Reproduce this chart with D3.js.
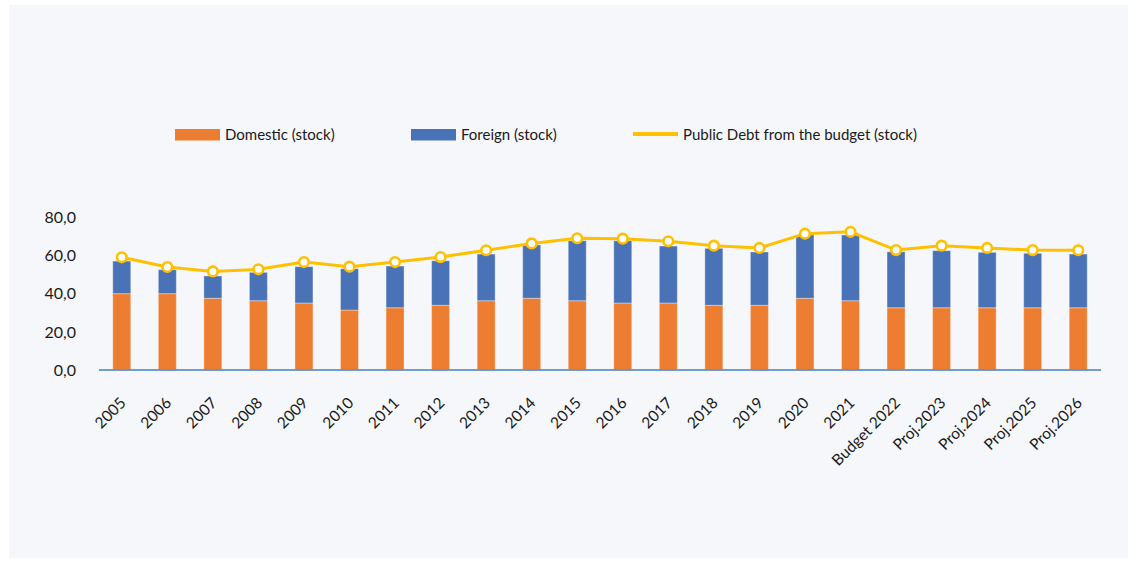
<!DOCTYPE html>
<html><head><meta charset="utf-8">
<script src="https://cdn.jsdelivr.net/npm/d3@7"></script>
<style>
html,body{margin:0;padding:0;background:#fff;}
svg{display:block;font-family:Lato,"Open Sans",sans-serif;}
</style></head>
<body><svg id="c" width="1128" height="561"></svg>
<script>
const categories = ["2005","2006","2007","2008","2009","2010","2011","2012","2013","2014","2015","2016","2017","2018","2019","2020","2021","Budget 2022","Proj.2023","Proj.2024","Proj.2025","Proj.2026"];
const domestic = [40.1,40.1,37.7,36.4,35.2,31.5,32.7,34.0,36.4,37.7,36.4,35.2,35.2,34.0,34.0,37.7,36.4,32.7,32.7,32.7,32.7,32.7];
const foreign  = [17.1,12.6,11.7,14.9,19.1,21.7,21.9,23.4,24.5,28.0,31.5,32.7,29.9,29.9,28.0,33.2,34.5,29.4,30.0,29.1,28.6,28.2];
const publicDebt = [59.2,54.1,51.8,52.9,56.7,54.3,56.7,59.3,62.9,66.5,69.2,69.0,67.6,65.3,64.1,71.6,72.6,63.0,65.3,64.1,63.0,62.9];
const yTicks = [0,20,40,60,80];
const legendLabels = ["Domestic (stock)","Foreign (stock)","Public Debt from the budget (stock)"];

const svg = d3.select("#c");
svg.append("rect").attr("x",9).attr("y",5).attr("width",1119).attr("height",553).attr("fill","#F5F7FB");

const x = d3.scaleBand().domain(categories).range([99,1101]).padding(0);
const y = d3.scaleLinear().domain([0,80]).range([370,217.7]);
const bw = 18;

const g = svg.append("g");
g.selectAll(".dom").data(categories).join("rect")
  .attr("x",d=>x(d)+x.bandwidth()/2-bw/2).attr("width",bw)
  .attr("y",(d,i)=>y(domestic[i])).attr("height",(d,i)=>y(0)-y(domestic[i]))
  .attr("fill","#ED7D31").attr("stroke","rgba(255,255,255,0.35)").attr("stroke-width",1);
g.selectAll(".for").data(categories).join("rect")
  .attr("x",d=>x(d)+x.bandwidth()/2-bw/2).attr("width",bw)
  .attr("y",(d,i)=>y(domestic[i]+foreign[i])).attr("height",(d,i)=>y(domestic[i])-y(domestic[i]+foreign[i]))
  .attr("fill","#4A72B6").attr("stroke","rgba(255,255,255,0.35)").attr("stroke-width",1);

svg.append("line").attr("x1",99).attr("x2",1101).attr("y1",y(0)).attr("y2",y(0))
  .attr("stroke","#5B8EC4").attr("stroke-width",2).attr("stroke-opacity",0.85);

const yAxis = d3.axisLeft(y).tickValues(yTicks).tickSize(0).tickPadding(0)
  .tickFormat(d=>d3.format(".1f")(d).replace(".",","));
const ya = svg.append("g").attr("transform","translate(76,0)").call(yAxis);
ya.select(".domain").remove();
ya.selectAll("text").attr("font-size",16).attr("fill","#1a1a1a").attr("font-family","Lato,sans-serif");

const xa = svg.append("g");
xa.selectAll("text").data(categories).join("text")
  .attr("transform",d=>`translate(${x(d)+x.bandwidth()/2+5},${404}) rotate(-45)`)
  .attr("text-anchor","end")
  .attr("font-size",15.5).attr("fill","#1a1a1a").text(d=>d);

const cx = d=>x(d)+x.bandwidth()/2;
const line = d3.line().x((d,i)=>cx(categories[i])).y(d=>y(d));
svg.append("path").datum(publicDebt).attr("d",line).attr("fill","none")
  .attr("stroke","#FFC000").attr("stroke-width",3);
svg.selectAll(".pt").data(publicDebt).join("circle")
  .attr("cx",(d,i)=>cx(categories[i])).attr("cy",d=>y(d)).attr("r",4.8)
  .attr("fill","#fff").attr("stroke","#FFC000").attr("stroke-width",2.6);

const lg = svg.append("g").attr("font-size",15).attr("fill","#1a1a1a");
const lx = [175,411,633];
lg.append("rect").attr("x",lx[0]).attr("y",129).attr("width",45).attr("height",11.5).attr("fill","#ED7D31");
lg.append("rect").attr("x",lx[1]).attr("y",129).attr("width",45).attr("height",11.5).attr("fill","#4A72B6");
lg.append("line").attr("x1",lx[2]).attr("x2",lx[2]+45).attr("y1",134).attr("y2",134).attr("stroke","#FFC000").attr("stroke-width",4);
lg.selectAll("text").data(legendLabels).join("text")
  .attr("x",(d,i)=>lx[i]+50).attr("y",135).attr("dy","0.35em").text(d=>d);
</script></body></html>
